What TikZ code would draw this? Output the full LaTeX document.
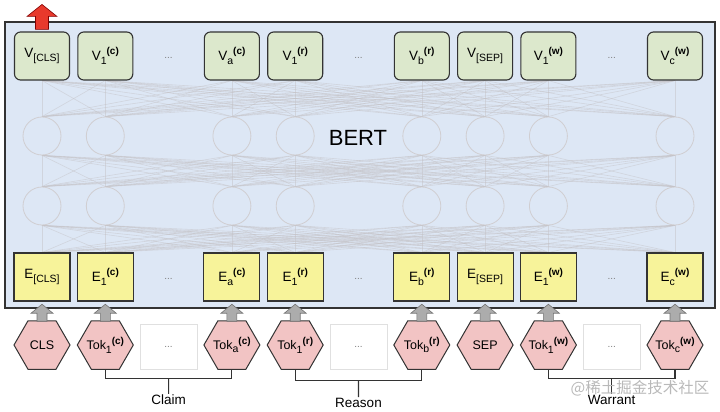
\documentclass[tikz,border=0pt]{standalone}
\usepackage{fontspec}
\setmainfont{Liberation Sans}
\newfontfamily\cjk{Noto Sans CJK SC}
\usetikzlibrary{shapes.geometric,backgrounds,calc}
\definecolor{bertbg}{HTML}{DDE7F5}
\definecolor{vgreen}{HTML}{DCE8CC}
\definecolor{eyellow}{HTML}{F7F39A}
\definecolor{hpink}{HTML}{F2C4C4}
\definecolor{netc}{HTML}{C4C2C6}
\definecolor{redarr}{HTML}{E8392C}
\definecolor{darkln}{HTML}{333333}
\newcommand\lsub[1]{\raisebox{-0.28em}{\fontsize{10.5}{11}\selectfont #1}}
\newcommand\lsup[1]{\raisebox{0.42em}{\fontsize{10}{11}\selectfont\bfseries #1}}
\newcommand\labfont{\fontsize{13.5}{15}\selectfont}
\newcommand\hexfont{\fontsize{12.5}{14}\selectfont}
\begin{document}
\begin{tikzpicture}[x=1pt,y=-1pt,
  vbox/.style={draw=darkln, line width=1.1pt, fill=vgreen, rounded corners=6pt, minimum width=55pt, minimum height=48pt, inner sep=0pt, font=\labfont},
  ebox/.style={draw=darkln, line width=1.1pt, fill=eyellow, minimum width=56pt, minimum height=48pt, inner sep=0pt, font=\labfont},
  hexa/.style={regular polygon, regular polygon sides=6, draw=darkln, line width=1pt, fill=hpink, minimum size=56pt, inner sep=0pt, label={[font=\hexfont, inner sep=0pt]center:#1}},
  neuron/.style={circle, draw=netc!80, line width=0.8pt, fill=bertbg, minimum size=38pt, inner sep=0pt},
  netline/.style={draw=netc, line width=0.6pt, opacity=0.5},
  dots/.style={text=gray, font=\fontsize{10}{11}\selectfont},
  dotbox/.style={draw=black!12, line width=0.8pt, fill=white, minimum width=57pt, minimum height=45pt, inner sep=0pt, text=gray, font=\fontsize{10}{11}\selectfont},
  garr/.style={fill=gray!65, draw=gray!90!black, line width=0.6pt},
  redarrow/.style={fill=redarr, draw=red!50!black, line width=0.6pt},
  brk/.style={draw=darkln, line width=1.1pt},
  lbl/.style={font=\fontsize{13.5}{15}\selectfont, inner sep=1pt}
]
\useasboundingbox (0,0) rectangle (720,412);

% output vectors
\node[vbox] (v0) at (42,56) {V\lsub{[CLS]}};
\node[vbox] (v1) at (105.3,56) {V\lsub{1}\lsup{(c)}};
\node[dots] (vd1) at (168.6,58) {...};
\node[vbox] (v2) at (231.9,56) {V\lsub{a}\lsup{(c)}};
\node[vbox] (v3) at (295.2,56) {V\lsub{1}\lsup{(r)}};
\node[dots] (vd2) at (358.5,58) {...};
\node[vbox] (v4) at (421.8,56) {V\lsub{b}\lsup{(r)}};
\node[vbox] (v5) at (485.1,56) {V\lsub{[SEP]}};
\node[vbox] (v6) at (548.4,56) {V\lsub{1}\lsup{(w)}};
\node[dots] (vd3) at (611.7,58) {...};
\node[vbox] (v7) at (675,56) {V\lsub{c}\lsup{(w)}};

% hidden layers
\foreach \n/\x in {0/42,1/105.3,2/231.9,3/295.2,4/421.8,5/485.1,6/548.4,7/675}{
  \node[neuron] (a\n) at (\x,136) {};
  \node[neuron] (b\n) at (\x,206) {};
}
\node[font=\fontsize{22}{24}\selectfont] (bertlbl) at (358,138) {BERT};

% embeddings
\node[ebox] (e0) at (42,277) {E\lsub{[CLS]}};
\node[ebox] (e1) at (105.3,277) {E\lsub{1}\lsup{(c)}};
\node[dots] (ed1) at (168.6,279) {...};
\node[ebox] (e2) at (231.9,277) {E\lsub{a}\lsup{(c)}};
\node[ebox] (e3) at (295.2,277) {E\lsub{1}\lsup{(r)}};
\node[dots] (ed2) at (358.5,279) {...};
\node[ebox] (e4) at (421.8,277) {E\lsub{b}\lsup{(r)}};
\node[ebox] (e5) at (485.1,277) {E\lsub{[SEP]}};
\node[ebox] (e6) at (548.4,277) {E\lsub{1}\lsup{(w)}};
\node[dots] (ed3) at (611.7,279) {...};
\node[ebox] (e7) at (675,277) {E\lsub{c}\lsup{(w)}};

\begin{pgfonlayer}{background}
  \node[draw=darkln, line width=1.2pt, fill=bertbg, minimum width=710pt, minimum height=286pt, inner sep=0pt] (bert) at (360,165) {};
  \foreach \i in {0,...,7}{
    \foreach \j in {0,...,7}{
      \draw[netline] (v\i.south) -- (a\j.north);
      \draw[netline] (a\i.south) -- (b\j.north);
      \draw[netline] (b\i.south) -- (e\j.north);
    }
  }
\end{pgfonlayer}

% tokens
\node[hexa={CLS}] (h0) at (42,345) {};
\node[hexa={Tok\lsub{1}\lsup{(c)}}] (h1) at (105.3,345) {};
\node[dotbox] (hd1) at (168.6,347) {...};
\node[hexa={Tok\lsub{a}\lsup{(c)}}] (h2) at (231.9,345) {};
\node[hexa={Tok\lsub{1}\lsup{(r)}}] (h3) at (295.2,345) {};
\node[dotbox] (hd2) at (358.5,347) {...};
\node[hexa={Tok\lsub{b}\lsup{(r)}}] (h4) at (421.8,345) {};
\node[hexa={SEP}] (h5) at (485.1,345) {};
\node[hexa={Tok\lsub{1}\lsup{(w)}}] (h6) at (548.4,345) {};
\node[dotbox] (hd3) at (611.7,347) {...};
\node[hexa={Tok\lsub{c}\lsup{(w)}}] (h7) at (675,345) {};

% grey arrows token -> embedding
\foreach \i in {0,...,7}{
  \filldraw[garr] ([yshift=-1pt]h\i.north) ++(-5,0) -- ++(0,-8) -- ++(-6,0) -- ++(11,-9) -- ++(11,9) -- ++(-6,0) -- ++(0,8) -- cycle;
}

% red output arrow
\filldraw[redarrow] ([yshift=2pt]v0.north) ++(-6.5,0) -- ++(0,-13) -- ++(-8.5,0) -- ++(15,-12) -- ++(15,12) -- ++(-8.5,0) -- ++(0,13) -- cycle;

% segment labels
\node[lbl] (claim) at (168.6,400) {Claim};
\node[lbl] (reason) at (358.5,403) {Reason};
\node[lbl] (warrant) at (611.7,400) {Warrant};

\draw[brk] (h1.south) -- ++(0,9) -| (h2.south);
\draw[brk] ($(h1.south)!0.5!(h2.south)+(0,9)$) -- (claim.north);
\draw[brk] (h3.south) -- ++(0,11) -| (h4.south);
\draw[brk] ($(h3.south)!0.5!(h4.south)+(0,11)$) -- (reason.north);
\draw[brk] (h6.south) -- ++(0,9) -| (h7.south);
\draw[brk] ($(h6.south)!0.5!(h7.south)+(0,9)$) -- (warrant.north);

% watermark
\node[text=gray!55, font=\cjk\fontsize{15.5}{17}\selectfont] (wm) at (640,388) {@稀土掘金技术社区};
\end{tikzpicture}
\end{document}
